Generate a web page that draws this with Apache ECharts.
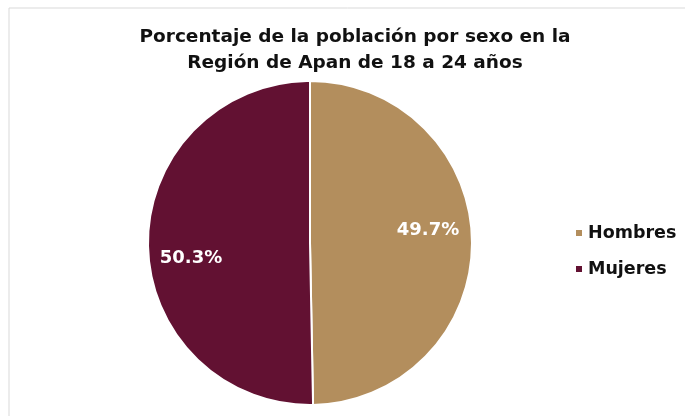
<!DOCTYPE html>
<html><head><meta charset="utf-8">
<script src="https://cdn.jsdelivr.net/npm/echarts@6/dist/echarts.min.js"></script>
<style>html,body{margin:0;padding:0;background:#fff}#c{width:685px;height:416px}</style>
</head><body><div id="c"></div>
<script>
const titleLines = ["Porcentaje de la población por sexo en la", "Región de Apan de 18 a 24 años"];
const categories = ["Hombres", "Mujeres"];
const values = [49.7, 50.3];
const colors = ["#B38E5D", "#621132"];
const labelOffsets = [[34, -12], [-35, 15]];

const chart = echarts.init(document.getElementById('c'));
const F = 'DejaVu Sans';
chart.setOption({
  animation: false,
  graphic: [{type: 'rect', shape: {x: 9, y: 8, width: 700, height: 420}, style: {fill: 'none', stroke: '#d9d9d9', lineWidth: 1}}],
  title: {
    text: titleLines.join('\n'), left: 350, top: 19, textAlign: 'center',
    textStyle: {fontFamily: F, fontWeight: 'bold', fontSize: 18.5, lineHeight: 26, color: '#111'}
  },
  legend: {
    orient: 'vertical', left: 569, top: 219, itemWidth: 8, itemHeight: 8, itemGap: 18,
    icon: 'rect',
    textStyle: {fontFamily: F, fontWeight: 'bold', fontSize: 17.5, color: '#111'},
    data: categories
  },
  series: [{
    type: 'pie', center: [310, 243], radius: 162, startAngle: 90, clockwise: true,
    itemStyle: {borderColor: '#fff', borderWidth: 2},
    label: {position: 'inside', color: '#fff', fontFamily: F, fontWeight: 'bold', fontSize: 18,
      formatter: p => p.value.toFixed(1) + '%'},
    labelLine: {show: false},
    data: categories.map((c, i) => ({name: c, value: values[i], itemStyle: {color: colors[i]}, label: {offset: labelOffsets[i]}}))
  }]
});
</script></body></html>
